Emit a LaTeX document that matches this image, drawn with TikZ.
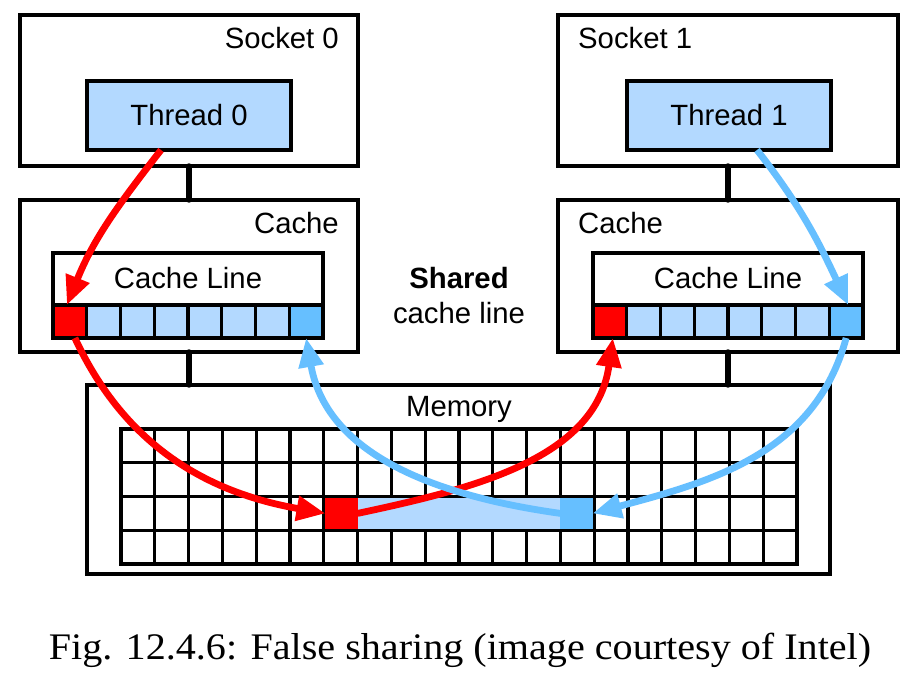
\documentclass[tikz,border=0pt]{standalone}
\usepackage{fontspec}
\setsansfont{Liberation Sans}
\setmainfont{Liberation Serif}
\usetikzlibrary{arrows.meta}
\definecolor{lb}{RGB}{179,217,255}
\definecolor{bl}{RGB}{102,191,255}
\definecolor{rd}{RGB}{255,0,0}
\begin{document}
\begin{tikzpicture}[x=1pt,y=-1pt,
  box/.style={draw=black,line width=3.3pt,inner sep=0pt,outer sep=0pt,rectangle},
  cellbox/.style={draw=black,line width=3.3pt,inner sep=0pt,outer sep=0pt,minimum width=33.8pt,minimum height=33.75pt},
  clcell/.style={draw=black,line width=3.3pt,inner sep=0pt,outer sep=0pt,minimum width=33.75pt,minimum height=33pt},
  fillcell/.style={inner sep=0pt,outer sep=0pt,minimum height=30.45pt},
  lbl/.style={font=\sffamily\fontsize{29.3}{34}\selectfont,inner sep=0pt},
  link/.style={line width=5.4pt,line cap=round},
  arr/.style={line width=6.8pt,-{Triangle[length=29pt,width=24pt]}},
]
\useasboundingbox (0,0) rectangle (914,678);
\fill[white] (0,0) rectangle (914,678);
% sockets
\node[box,minimum width=338pt,minimum height=151pt] (s0) at (189,90.5) {};
\node[box,minimum width=340pt,minimum height=151pt] (s1) at (728,90.5) {};
\node[lbl,anchor=base east] (s0l) at (339,48) {Socket 0};
\node[lbl,anchor=base west] (s1l) at (578,48) {Socket 1};
\node[box,fill=lb,minimum width=204pt,minimum height=69pt,font=\sffamily\fontsize{29.3}{34}\selectfont] (T0) at (189,115.5) {Thread 0};
\node[box,fill=lb,minimum width=204pt,minimum height=69pt,font=\sffamily\fontsize{29.3}{34}\selectfont] (T1) at (729,115.5) {Thread 1};
% caches
\node[box,minimum width=338pt,minimum height=152pt] (c0) at (189,276) {};
\node[box,minimum width=340pt,minimum height=152pt] (c1) at (728,276) {};
\node[lbl,anchor=base east] (c0l) at (339,233) {Cache};
\node[lbl,anchor=base west] (c1l) at (578,233) {Cache};
\node[box,minimum width=270pt,minimum height=85pt] (cl0) at (188,295.5) {};
\node[box,minimum width=270pt,minimum height=85pt] (cl1) at (728,295.5) {};
\node[lbl,anchor=base] (cl0l) at (188,288) {Cache Line};
\node[lbl,anchor=base] (cl1l) at (728,288) {Cache Line};
\foreach \i in {0,...,7}{
  \node[clcell,fill=lb] (L\i) at ({53+33.75*\i+16.875},321.5) {};
  \node[clcell,fill=lb] (R\i) at ({593+33.75*\i+16.875},321.5) {};
}
\node[clcell,fill=rd] at (L0) {};
\node[clcell,fill=bl] at (L7) {};
\node[clcell,fill=rd] at (R0) {};
\node[clcell,fill=bl] at (R7) {};
% shared label
\node[lbl,anchor=base,font=\sffamily\bfseries\fontsize{29.3}{34}\selectfont] (sh) at (459,288) {Shared};
\node[lbl,anchor=base] (shc) at (459,323) {cache line};
% memory
\node[box,minimum width=743pt,minimum height=189pt] (mem) at (458.5,479.5) {};
\node[lbl,anchor=base] (meml) at (459,416) {Memory};
\foreach \i in {0,...,19}{
  \foreach \j in {0,...,3}{
    \node[cellbox] (M\i-\j) at ({121+33.8*\i+16.9},{429+33.75*\j+16.875}) {};
  }
}
\node[fillcell,fill=rd,minimum width=32.15pt,anchor=west] (mr) at (325.45,513.4) {};
\node[fillcell,fill=lb,minimum width=202.8pt,anchor=west] (mlb) at (357.6,513.4) {};
\node[fillcell,fill=bl,minimum width=32.15pt,anchor=east] (mb) at (592.55,513.4) {};
% links
\draw[link] (s0.south) -- (c0.north);
\draw[link] (s1.south) -- (c1.north);
\draw[link] (c0.south) -- (c0.south |- mem.north);
\draw[link] (c1.south) -- (c1.south |- mem.north);
% arrows
\draw[arr,rd] ([xshift=-28pt]T0.south) to[out=-128,in=68] ([xshift=-3pt]L0.north);
\draw[arr,rd] ([xshift=5pt]L0.south) to[out=-65,in=170] (mr.west);
\draw[arr,rd] (mr.east) to[out=12,in=-98] ([xshift=3pt]R0.south);
\draw[arr,bl] ([xshift=28pt]T1.south) to[out=-52,in=115] ([xshift=2pt]R7.north);
\draw[arr,bl] (R7.south) to[out=-105,in=15] (mb.east);
\draw[arr,bl] (mb.west) to[out=172,in=-80] (L7.south);
% caption
\node[anchor=base,inner sep=0pt,font=\rmfamily\fontsize{37.5}{42}\selectfont] (cap) at (460,659) {\scalebox{1.07}[1]{Fig. 12.4.6: False sharing (image courtesy of Intel)}};
\end{tikzpicture}
\end{document}
